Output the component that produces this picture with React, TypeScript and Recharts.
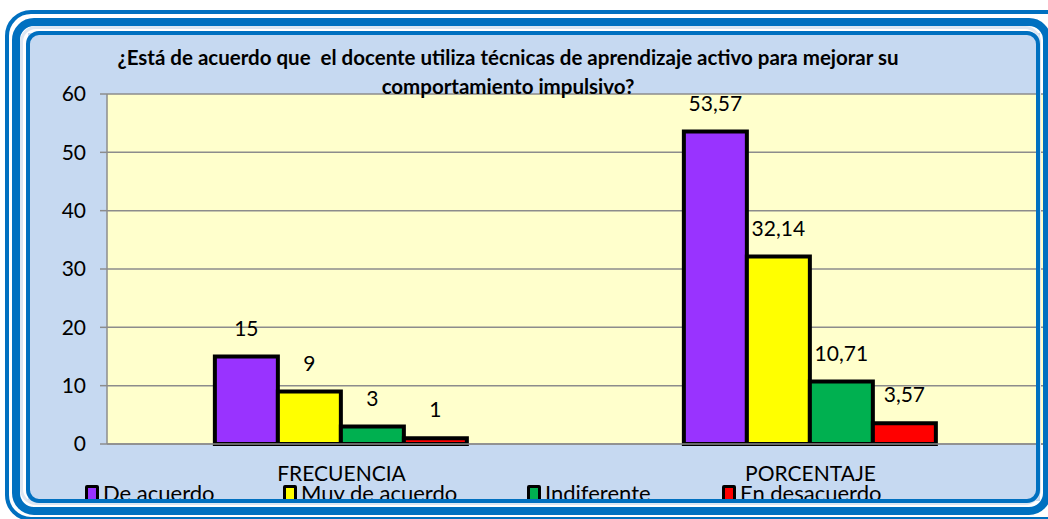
import React from "react";
import { BarChart, Bar, XAxis, YAxis, CartesianGrid, LabelList } from "recharts";

const categories = ["FRECUENCIA", "PORCENTAJE"];
const deAcuerdo = [15, 53.57];
const muyDeAcuerdo = [9, 32.14];
const indiferente = [3, 10.71];
const enDesacuerdo = [1, 3.57];
const yTicks = [0, 10, 20, 30, 40, 50, 60];
const titleLines = [
  "¿Está de acuerdo que  el docente utiliza técnicas de aprendizaje activo para mejorar su",
  "comportamiento impulsivo?",
];

const series = [
  { key: "deAcuerdo", name: "De acuerdo", values: deAcuerdo, color: "#9933FF" },
  { key: "muyDeAcuerdo", name: "Muy de acuerdo", values: muyDeAcuerdo, color: "#FFFF00" },
  { key: "indiferente", name: "Indiferente", values: indiferente, color: "#00B050" },
  { key: "enDesacuerdo", name: "En desacuerdo", values: enDesacuerdo, color: "#FF0000" },
];

const data = categories.map((c, i) => {
  const row: any = { category: c };
  series.forEach((s) => (row[s.key] = s.values[i]));
  return row;
});

const legendLeft = [85, 283, 527, 722];
const FONT = "Lato, 'Open Sans', sans-serif";
const BLUE = "#0070C0";

const fmt = (v: any) => String(v).replace(".", ",");

export default function App() {
  return (
    <div style={{ position: "absolute", left: 0, top: 0, width: 1048, height: 519, overflow: "hidden", background: "#fff" }}>
      <div style={{ position: "absolute", left: 28, top: 33, width: 1012, height: 468, background: "#C6D9F1" }} />
      <div style={{ position: "absolute", left: 0, top: 0 }}>
        <BarChart
          width={1048}
          height={519}
          data={data}
          margin={{ top: 94, right: 3, bottom: 45, left: 0 }}
          barCategoryGap="23%"
          barGap={0}
        >
          <CartesianGrid vertical={false} stroke="#8C8C8C" strokeWidth={1.5} fill="#FFFFCC" />
          <XAxis
            dataKey="category"
            height={30}
            stroke="#8C8C8C"
            strokeWidth={1.5}
            tickLine={false}
            tickSize={8}
            tickMargin={14}
            tick={{ fill: "#000", fontSize: 21, fontFamily: FONT }}
            interval={0}
          />
          <YAxis
            domain={[0, 60]}
            ticks={yTicks}
            width={107}
            stroke="#8C8C8C"
            strokeWidth={1.5}
            tickSize={7}
            tickMargin={14}
            tick={{ fill: "#000", fontSize: 21, fontFamily: FONT }}
            interval={0}
          />
          {series.map((s) => (
            <Bar
              key={s.key}
              dataKey={s.key}
              name={s.name}
              fill={s.color}
              stroke="#000"
              strokeWidth={4}
              isAnimationActive={false}
            >
              <LabelList
                dataKey={s.key}
                position="top"
                offset={21}
                formatter={fmt}
                style={{ fill: "#000", fontSize: 21, fontFamily: FONT }}
              />
            </Bar>
          ))}
        </BarChart>
      </div>
      <div
        style={{
          position: "absolute",
          left: 0,
          width: 1016,
          top: 43,
          textAlign: "center",
          fontFamily: FONT,
          fontWeight: 700,
          fontSize: 20.5,
          lineHeight: "29px",
          color: "#000",
          whiteSpace: "pre",
        }}
      >
        {titleLines.join("\n")}
      </div>
      {series.map((s, i) => (
        <div
          key={s.key}
          style={{
            position: "absolute",
            left: legendLeft[i],
            top: 480,
            display: "flex",
            alignItems: "center",
            fontFamily: FONT,
            fontSize: 22,
            lineHeight: "26px",
            color: "#000",
            whiteSpace: "nowrap",
          }}
        >
          <span
            style={{
              display: "inline-block",
              width: 8,
              height: 11,
              background: s.color,
              border: "3px solid #000",
              borderRadius: 2,
              marginRight: 4,
            }}
          />
          {s.name}
        </div>
      ))}
      <div style={{ position: "absolute", left: 5, top: 10, width: 1070, height: 503, border: `4px solid ${BLUE}`, borderRadius: 26 }} />
      <div style={{ position: "absolute", left: 12, top: 18, width: 1023, height: 481, border: `8px solid ${BLUE}`, borderRadius: 22 }} />
      <div style={{ position: "absolute", left: 20, top: 26, width: 1015, height: 473, border: `3px solid #DCE6F2`, borderRadius: 16 }} />
      <div style={{ position: "absolute", left: 26, top: 31, width: 1006, height: 464, border: `4px solid ${BLUE}`, borderRadius: 13 }} />
    </div>
  );
}
